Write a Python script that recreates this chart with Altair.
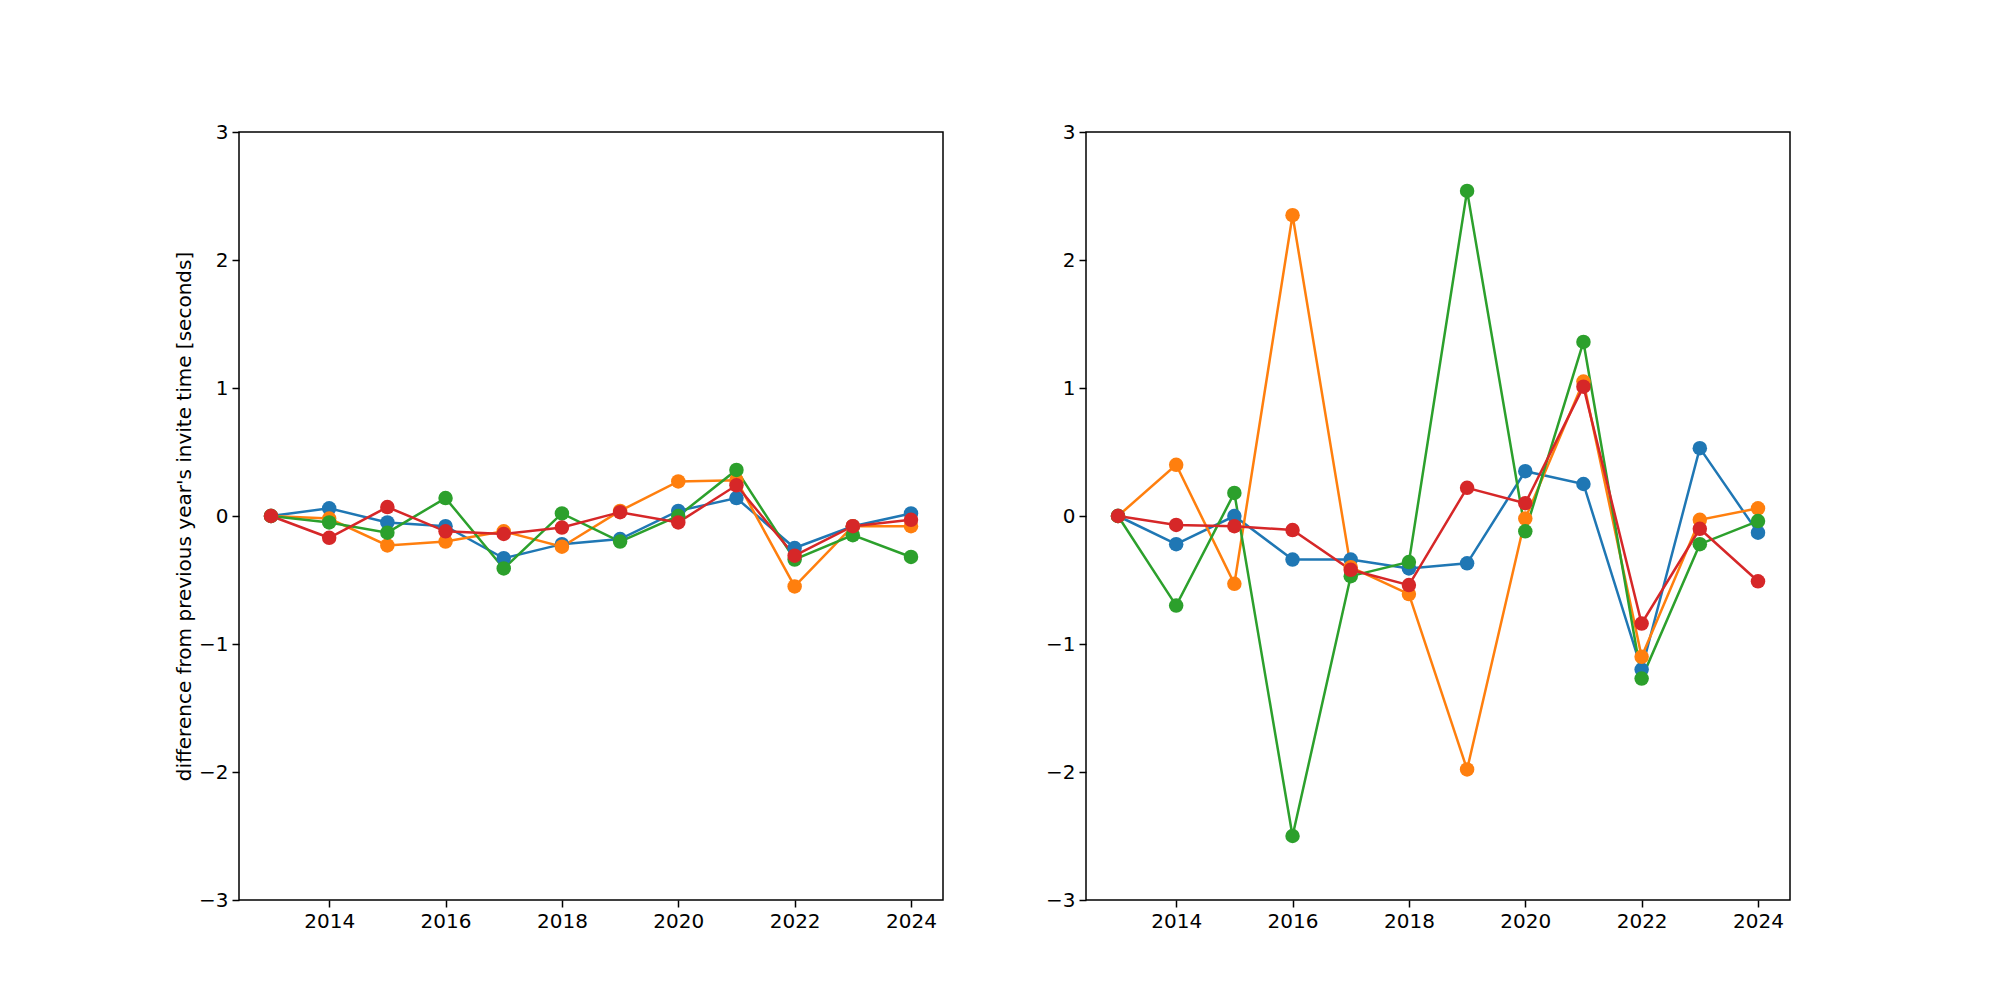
import pandas as pd
import altair as alt

years = list(range(2013, 2025))

# 100 events
breast_100 = [0, 0.06, -0.05, -0.08, -0.33, -0.22, -0.18, 0.04, 0.14, -0.25, -0.08, 0.02]
back_100 = [0, -0.02, -0.23, -0.20, -0.12, -0.24, 0.04, 0.27, 0.28, -0.55, -0.08, -0.08]
fly_100 = [0, -0.05, -0.13, 0.14, -0.41, 0.02, -0.20, 0.00, 0.36, -0.34, -0.15, -0.32]
free_100 = [0, -0.17, 0.07, -0.12, -0.14, -0.09, 0.03, -0.05, 0.24, -0.31, -0.08, -0.03]

# 200 events
breast_200 = [0, -0.22, 0.00, -0.34, -0.34, -0.41, -0.37, 0.35, 0.25, -1.20, 0.53, -0.13]
back_200 = [0, 0.40, -0.53, 2.35, -0.40, -0.61, -1.98, -0.02, 1.05, -1.10, -0.03, 0.06]
fly_200 = [0, -0.70, 0.18, -2.50, -0.47, -0.36, 2.54, -0.12, 1.36, -1.27, -0.22, -0.04]
free_200 = [0, -0.07, -0.08, -0.11, -0.42, -0.54, 0.22, 0.10, 1.01, -0.84, -0.10, -0.51]

colors = ["#1f77b4", "#ff7f0e", "#2ca02c", "#d62728"]
FONT = "DejaVu Sans"


def panel(series, ytitle):
    rows = []
    for name, vals in series.items():
        for y, v in zip(years, vals):
            rows.append({"year": y, "diff": v, "event": name})
    df = pd.DataFrame(rows)
    names = list(series.keys())

    x = alt.X("year:Q", title=None,
              scale=alt.Scale(domain=[2012.45, 2024.55], nice=False, zero=False),
              axis=alt.Axis(values=[2014, 2016, 2018, 2020, 2022, 2024], format="d"))
    y = alt.Y("diff:Q", title=ytitle,
              scale=alt.Scale(domain=[-3, 3], nice=False),
              axis=alt.Axis(values=[-3, -2, -1, 0, 1, 2, 3], format="d"))
    cscale = alt.Scale(domain=names, range=colors)
    color = alt.Color("event:N", scale=cscale, sort=names,
                      legend=alt.Legend(title=None, orient="top-right", offset=12,
                                        symbolType="circle", symbolSize=200,
                                        labelFontSize=20, labelFont=FONT,
                                        fillColor="white", strokeColor="#cccccc",
                                        padding=10, cornerRadius=4))

    base = alt.Chart(df)
    lines = base.mark_line(strokeWidth=2.5).encode(
        x=x, y=y, color=alt.Color("event:N", scale=cscale, legend=None), detail="event:N")
    points = base.mark_circle(size=210, opacity=1).encode(x=x, y=y, color=color)
    return (lines + points).properties(width=704, height=768)


left = panel({"100 breast": breast_100, "100 back": back_100,
              "100 fly": fly_100, "100 free": free_100},
             "difference from previous year's invite time [seconds]")
right = panel({"200 breast": breast_200, "200 back": back_200,
               "200 fly": fly_200, "200 free": free_200}, None)

chart = alt.hconcat(left, right, spacing=100).resolve_scale(color="independent").properties(
    padding={"left": 165, "top": 113, "right": 10, "bottom": 10}
).configure_view(
    stroke="black", strokeWidth=1.5
).configure_axis(
    grid=False, domain=False, tickColor="black", tickSize=7, tickWidth=1.5,
    labelFont=FONT, labelFontSize=20, labelColor="black", labelPadding=4,
    titleFont=FONT, titleFontSize=20, titleFontWeight="normal", titleColor="black"
)

chart.save("out.html", embed_options={"renderer": "svg", "actions": False})
